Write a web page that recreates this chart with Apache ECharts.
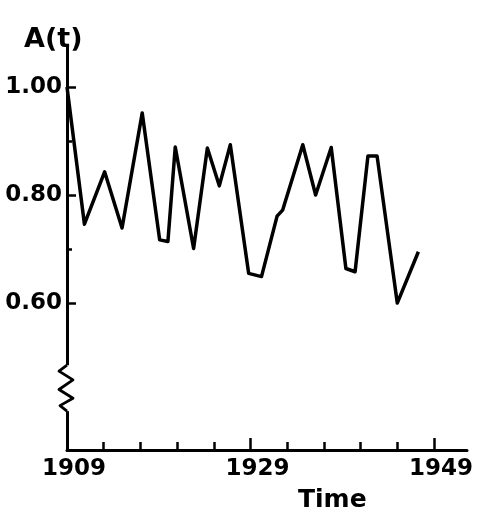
<!DOCTYPE html>
<html>
<head>
<meta charset="utf-8">
<script src="https://cdn.jsdelivr.net/npm/echarts@6/dist/echarts.min.js"></script>
<style>
html,body{margin:0;padding:0;background:#fff;}
#chart{width:484px;height:520px;}
</style>
</head>
<body>
<div id="chart"></div>
<script>
// Data
const years = [1909, 1910.9, 1913.1, 1915.0, 1917.2, 1919.1, 1920.0, 1920.8, 1922.8, 1924.3, 1925.6, 1926.8, 1928.8, 1930.2, 1931.9, 1932.5, 1934.7, 1936.1, 1937.8, 1939.4, 1940.4, 1941.8, 1942.8, 1945.0, 1947.3];
const values = [1.00, 0.746, 0.843, 0.739, 0.952, 0.717, 0.714, 0.889, 0.701, 0.887, 0.817, 0.893, 0.655, 0.649, 0.761, 0.772, 0.893, 0.800, 0.888, 0.664, 0.658, 0.872, 0.872, 0.600, 0.695];
const yLabelValues = [0.6, 0.8, 1.0];
const yMinorTicks = [0.7, 0.9];
const xLabelValues = [1909, 1929, 1949];
const xMajorTicks = [1929, 1949];
const xMinorTicks = [1913, 1917, 1921, 1925, 1933, 1937, 1941, 1945];
const yBreak = [0.485, 0.400];

const FONT = 'DejaVu Sans';
const chart = echarts.init(document.getElementById('chart'), null, {renderer: 'canvas'});
const yMin = 0.328, yMax = 1.074, xMin = 1909, xMax = 1952.6;

const option = {
  backgroundColor: '#fff',
  animation: false,
  title: [
    {text: 'A(t)', left: 19, top: 21, textStyle: {fontFamily: FONT, fontSize: 27, fontWeight: 'bold', color: '#000'}},
    {text: 'Time', left: 293, top: 483, textStyle: {fontFamily: FONT, fontSize: 25, fontWeight: 'bold', color: '#000'}}
  ],
  grid: {left: 67, right: 17, top: 47, bottom: 70},
  xAxis: [
    {
      type: 'value', min: xMin, max: xMax,
      axisLine: {show: true, lineStyle: {color: '#000', width: 3}},
      axisTick: {show: true, inside: true, length: 8, customValues: xMinorTicks, lineStyle: {color: '#000', width: 2.5}},
      axisLabel: {show: false},
      splitLine: {show: false}
    },
    {
      type: 'value', min: xMin, max: xMax, position: 'bottom',
      axisLine: {show: false},
      axisTick: {show: true, inside: true, length: 12, customValues: xMajorTicks, lineStyle: {color: '#000', width: 2.5}},
      axisLabel: {show: true, customValues: xLabelValues, margin: 8, padding: [0, 0, 0, 14], fontFamily: FONT, fontSize: 23, fontWeight: 'bold', color: '#000', formatter: v => String(v)},
      splitLine: {show: false}
    }
  ],
  yAxis: [
    {
      type: 'value', min: yMin, max: yMax,
      axisLine: {show: true, lineStyle: {color: '#000', width: 3}},
      axisTick: {show: true, inside: true, length: 9, customValues: yLabelValues, lineStyle: {color: '#000', width: 2.5}},
      axisLabel: {show: true, customValues: yLabelValues, margin: 5, fontFamily: FONT, fontSize: 23, fontWeight: 'bold', color: '#000', formatter: v => v.toFixed(2)},
      splitLine: {show: false}
    },
    {
      type: 'value', min: yMin, max: yMax, position: 'left',
      axisLine: {show: false},
      axisTick: {show: true, inside: true, length: 5, customValues: yMinorTicks, lineStyle: {color: '#000', width: 2.5}},
      axisLabel: {show: false},
      splitLine: {show: false}
    }
  ],
  series: [{
    type: 'line',
    xAxisIndex: 0, yAxisIndex: 0,
    data: years.map((y, i) => [y, values[i]]),
    showSymbol: false,
    symbol: 'none',
    lineStyle: {color: '#000', width: 3.5, join: 'round'},
    z: 5
  }]
};
chart.setOption(option);

// Axis break zigzag on the y-axis, placed through the axis scale
const breakTop = chart.convertToPixel({yAxisIndex: 0}, yBreak[0]);
const breakBot = chart.convertToPixel({yAxisIndex: 0}, yBreak[1]);
const axisX = chart.convertToPixel({xAxisIndex: 0}, xMin);
const bh = breakBot - breakTop;
const zig = [[0,0],[-8,0.13],[6,0.32],[-8,0.53],[6,0.72],[-7,0.88],[0,1]].map(p => [axisX + p[0], breakTop + p[1]*bh]);
chart.setOption({
  graphic: [
    {type: 'rect', z: 100, shape: {x: axisX - 3, y: breakTop, width: 6, height: bh}, style: {fill: '#fff'}},
    {type: 'polyline', z: 101, shape: {points: zig}, style: {stroke: '#000', lineWidth: 2.8, fill: null, lineJoin: 'round'}}
  ]
});
</script>
</body>
</html>
